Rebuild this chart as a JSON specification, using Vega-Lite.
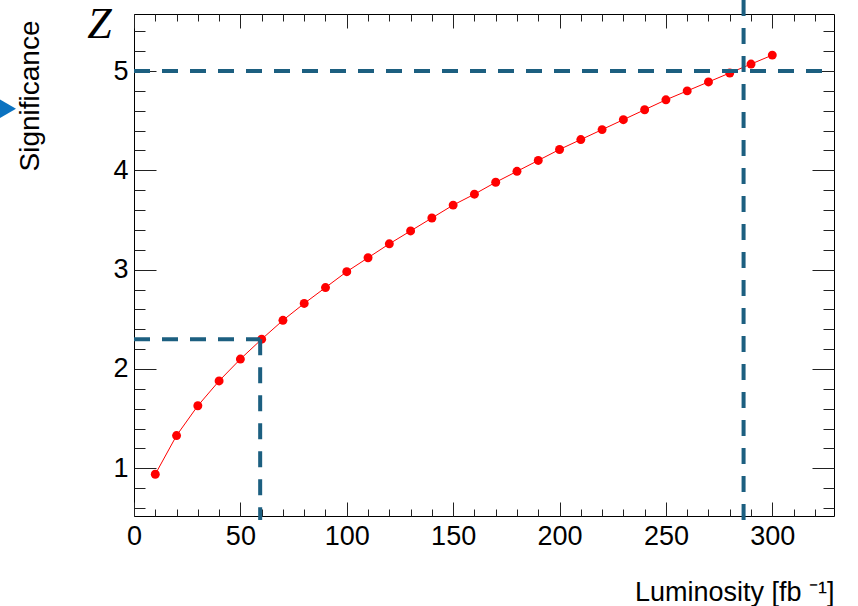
{
  "$schema": "https://vega.github.io/schema/vega-lite/v6.json",
  "width": 700,
  "height": 502,
  "autosize": "none",
  "padding": {"left": 134, "top": 14, "right": 24, "bottom": 90},
  "background": "white",
  "config": {
    "view": {"stroke": "#000", "strokeWidth": 1},
    "axis": {
      "domain": false,
      "grid": false,
      "labelFlush": false,
      "labelFont": "Liberation Sans",
      "titleFont": "Liberation Sans",
      "tickColor": "#222",
      "labelColor": "#000",
      "titleColor": "#000",
      "titleFontWeight": "normal",
      "labelFontSize": 27,
      "titleFontSize": 27
    }
  },
  "datasets": {
    "sig": [
      {"lumi": 10, "z": 0.94}, {"lumi": 20, "z": 1.33}, {"lumi": 30, "z": 1.63},
      {"lumi": 40, "z": 1.88}, {"lumi": 50, "z": 2.10}, {"lumi": 60, "z": 2.30},
      {"lumi": 70, "z": 2.49}, {"lumi": 80, "z": 2.66}, {"lumi": 90, "z": 2.82},
      {"lumi": 100, "z": 2.98}, {"lumi": 110, "z": 3.12}, {"lumi": 120, "z": 3.26},
      {"lumi": 130, "z": 3.39}, {"lumi": 140, "z": 3.52}, {"lumi": 150, "z": 3.65},
      {"lumi": 160, "z": 3.76}, {"lumi": 170, "z": 3.88}, {"lumi": 180, "z": 3.99},
      {"lumi": 190, "z": 4.10}, {"lumi": 200, "z": 4.21}, {"lumi": 210, "z": 4.31},
      {"lumi": 220, "z": 4.41}, {"lumi": 230, "z": 4.51}, {"lumi": 240, "z": 4.61},
      {"lumi": 250, "z": 4.71}, {"lumi": 260, "z": 4.80}, {"lumi": 270, "z": 4.89},
      {"lumi": 280, "z": 4.98}, {"lumi": 290, "z": 5.07}, {"lumi": 300, "z": 5.16}
    ],
    "hlines": [
      {"x1": 0, "x2": 329, "yv": 5},
      {"x1": 0, "x2": 59.3, "yv": 2.3}
    ],
    "vlines": [
      {"xv": 286.5, "y1": 5.716, "y2": 0.48},
      {"xv": 59.3, "y1": 2.3, "y2": 0.48}
    ],
    "marker": [
      {"mx": -60, "my": 4.62}
    ]
  },
  "layer": [
    {
      "data": {"name": "sig"},
      "mark": {"type": "line", "color": "#ff0000", "strokeWidth": 1},
      "encoding": {
        "x": {
          "field": "lumi", "type": "quantitative",
          "scale": {"domain": [0, 329], "nice": false, "zero": false},
          "axis": {
            "orient": "bottom",
            "values": [0, 50, 100, 150, 200, 250, 300],
            "tickSize": -14,
            "labelPadding": 21,
            "title": "Luminosity [fb ⁻¹]",
            "titleX": 700, "titleY": 84,
            "titleAnchor": "end", "titleAlign": "right", "titleBaseline": "alphabetic"
          }
        },
        "y": {
          "field": "z", "type": "quantitative",
          "scale": {"domain": [0.52, 5.574], "nice": false, "zero": false},
          "axis": {
            "orient": "left",
            "values": [1, 2, 3, 4, 5],
            "tickSize": -22,
            "labelPadding": 28,
            "title": "Significance",
            "titleFontSize": 28,
            "titleAngle": 270,
            "titleX": -96, "titleY": 6,
            "titleAlign": "right", "titleBaseline": "alphabetic"
          }
        }
      }
    },
    {
      "data": {"name": "sig"},
      "mark": {"type": "circle", "color": "#ff0000", "size": 80, "opacity": 1},
      "encoding": {
        "x": {
          "field": "lumi", "type": "quantitative",
          "axis": {
            "orient": "bottom",
            "values": [0, 10, 20, 30, 40, 50, 60, 70, 80, 90, 100, 110, 120, 130, 140, 150, 160, 170, 180, 190, 200, 210, 220, 230, 240, 250, 260, 270, 280, 290, 300, 310, 320],
            "tickSize": -7,
            "labels": false,
            "title": null
          }
        },
        "y": {
          "field": "z", "type": "quantitative",
          "axis": {
            "orient": "left",
            "values": [0.6, 0.8, 1.2, 1.4, 1.6, 1.8, 2.2, 2.4, 2.6, 2.8, 3.2, 3.4, 3.6, 3.8, 4.2, 4.4, 4.6, 4.8, 5.2, 5.4],
            "tickSize": -11,
            "labels": false,
            "title": "Z",
            "titleAngle": 0,
            "titleFont": "Liberation Serif",
            "titleFontStyle": "italic",
            "titleFontSize": 44,
            "titleX": -35, "titleY": 23,
            "titleAlign": "center", "titleBaseline": "alphabetic"
          }
        }
      }
    },
    {
      "data": {"name": "hlines"},
      "mark": {"type": "rule", "color": "#1c5f80", "strokeWidth": 4, "strokeDash": [16, 12], "clip": false},
      "encoding": {
        "x": {
          "field": "x1", "type": "quantitative",
          "axis": {
            "orient": "top",
            "values": [0, 50, 100, 150, 200, 250, 300],
            "tickSize": -14,
            "labels": false,
            "title": null
          }
        },
        "x2": {"field": "x2"},
        "y": {
          "field": "yv", "type": "quantitative",
          "axis": {
            "orient": "right",
            "values": [1, 2, 3, 4, 5],
            "tickSize": -22,
            "labels": false,
            "title": null
          }
        }
      }
    },
    {
      "data": {"name": "vlines"},
      "mark": {"type": "rule", "color": "#1c5f80", "strokeWidth": 4, "strokeDash": [16, 12], "clip": false},
      "encoding": {
        "x": {
          "field": "xv", "type": "quantitative",
          "axis": {
            "orient": "top",
            "values": [0, 10, 20, 30, 40, 50, 60, 70, 80, 90, 100, 110, 120, 130, 140, 150, 160, 170, 180, 190, 200, 210, 220, 230, 240, 250, 260, 270, 280, 290, 300, 310, 320],
            "tickSize": -7,
            "labels": false,
            "title": null
          }
        },
        "y": {
          "field": "y1", "type": "quantitative",
          "axis": {
            "orient": "right",
            "values": [0.6, 0.8, 1.2, 1.4, 1.6, 1.8, 2.2, 2.4, 2.6, 2.8, 3.2, 3.4, 3.6, 3.8, 4.2, 4.4, 4.6, 4.8, 5.2, 5.4],
            "tickSize": -11,
            "labels": false,
            "title": null
          }
        },
        "y2": {"field": "y2"}
      }
    },
    {
      "data": {"name": "marker"},
      "mark": {"type": "point", "shape": "triangle-right", "filled": true, "color": "#0b72c0", "size": 500, "opacity": 1, "clip": false},
      "encoding": {
        "x": {"field": "mx", "type": "quantitative", "axis": null},
        "y": {"field": "my", "type": "quantitative", "axis": null}
      }
    }
  ],
  "resolve": {"axis": {"x": "independent", "y": "independent"}}
}
